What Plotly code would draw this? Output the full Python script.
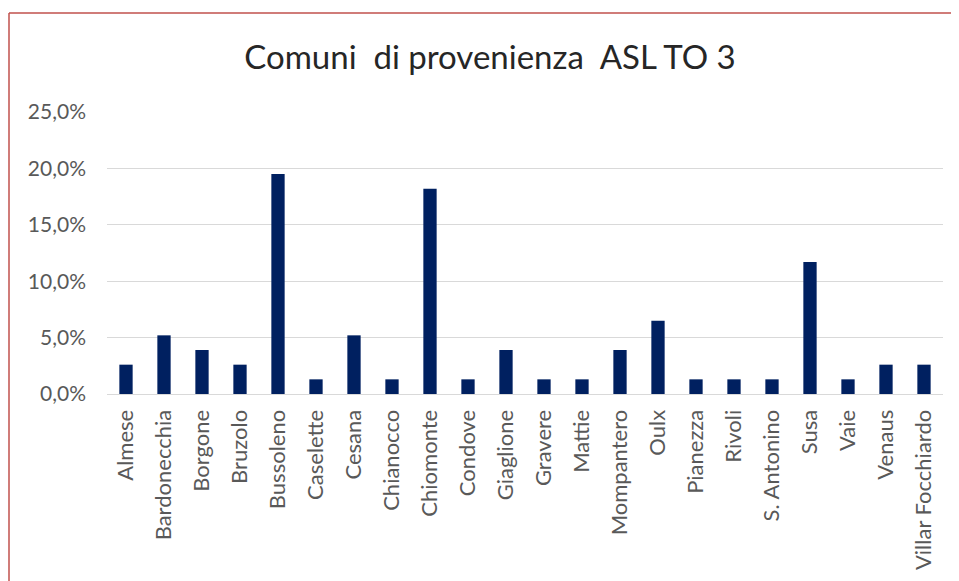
import plotly.graph_objects as go

comuni = ["Almese", "Bardonecchia", "Borgone", "Bruzolo", "Bussoleno", "Caselette",
          "Cesana", "Chianocco", "Chiomonte", "Condove", "Giaglione", "Gravere",
          "Mattie", "Mompantero", "Oulx", "Pianezza", "Rivoli", "S. Antonino",
          "Susa", "Vaie", "Venaus", "Villar Focchiardo"]
percentuali = [0.026, 0.052, 0.039, 0.026, 0.195, 0.013,
               0.052, 0.013, 0.182, 0.013, 0.039, 0.013,
               0.013, 0.039, 0.065, 0.013, 0.013, 0.013,
               0.117, 0.013, 0.026, 0.026]
y_ticks = [0, 0.05, 0.10, 0.15, 0.20, 0.25]
titolo = "Comuni\u00a0\u00a0di provenienza\u00a0\u00a0ASL TO 3"

# page body has an 8px margin; window coords are offset by OFF
OFF = 8
WIN_W, WIN_H = 959, 581
W, H = WIN_W - OFF, WIN_H - OFF
plot_left, plot_right, plot_top, plot_bottom = 107, 943, 112, 394
L, R = plot_left - OFF, WIN_W - plot_right
T, B = plot_top - OFF, WIN_H - plot_bottom
pw, ph = W - L - R, H - T - B

def px(x):
    return (x - plot_left) / pw

def py(y):
    return (plot_bottom - y) / ph

fig = go.Figure(go.Bar(x=comuni, y=percentuali, marker_color="#002060",
                       marker_line_width=0))

fig.update_layout(
    width=W, height=H,
    margin=dict(l=L, r=R, t=T, b=B, autoexpand=False),
    paper_bgcolor="white", plot_bgcolor="white",
    separators=",.",
    bargap=0.65,
    font=dict(family="Lato, Open Sans, sans-serif", color="#595959"),
    title=dict(text=titolo, x=(490 - OFF) / W, xanchor="center", xref="container",
               y=1 - (57 - OFF) / H, yanchor="middle",
               font=dict(size=33, color="#262626")),
    showlegend=False,
    xaxis=dict(tickangle=-90, tickfont=dict(size=22), showgrid=False,
               showline=True, linecolor="#d9d9d9", ticks="", automargin=False,
               ticklabelstandoff=6),
    yaxis=dict(range=[0, 0.25], tickvals=y_ticks, tickformat=".1%",
               tickfont=dict(size=21), gridcolor="#d9d9d9", zeroline=False,
               ticks="", ticklabelstandoff=20, automargin=False),
    shapes=[
        dict(type="line", xref="paper", yref="paper",
             x0=px(9), x1=px(9), y0=py(13), y1=py(WIN_H),
             line=dict(color="#c0504d", width=1.5)),
        dict(type="line", xref="paper", yref="paper",
             x0=px(9), x1=px(WIN_W), y0=py(13), y1=py(13),
             line=dict(color="#c0504d", width=1.5)),
    ],
)

fig.write_html("out.html")
